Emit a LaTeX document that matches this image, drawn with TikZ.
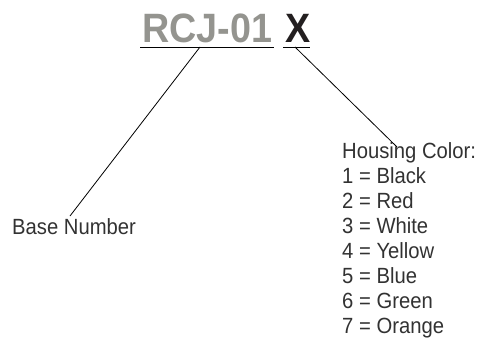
\documentclass[tikz,border=0pt]{standalone}
\usepackage{fontspec}
\setmainfont{Liberation Sans}
\newfontfamily\narrowsans[FakeStretch=0.92]{Liberation Sans}
\usepackage{tikz}
\usepackage{xcolor}
\usetikzlibrary{calc}
\definecolor{partgray}{RGB}{148,148,143}
\definecolor{codeblack}{RGB}{35,31,32}
\definecolor{textgray}{RGB}{50,50,50}
\tikzset{
    part-no/.style = {inner sep=0pt, anchor=base west, text=partgray, font=\narrowsans\fontsize{41}{41}\selectfont\bfseries},
    part-code/.style = {inner sep=0pt, anchor=base west, text=codeblack, font=\narrowsans\fontsize{41}{41}\selectfont\bfseries},
    item-text/.style = {inner sep=0pt, anchor=base west, text=textgray, font=\narrowsans\fontsize{22}{25}\selectfont},
    leader/.style = {draw=black, line width=0.8pt},
}

\begin{document}
\begin{tikzpicture}[x=1pt, y=-1pt]
\useasboundingbox (0,0) rectangle (481,339);
\node [part-no] (partno) at (142,43) {RCJ-01};
\node [part-code] (colorcode) at (285,43) {X};
\draw [leader] ($(partno.base west)+(-2,4)$) -- ($(partno.base east)+(2,4)$);
\draw [leader] ($(colorcode.base west)+(-2,4)$) -- ($(colorcode.base east)+(-1,4)$);
\coordinate (partfoot) at ($(partno.base west)+(58,4)$);
\coordinate (codefoot) at ($(colorcode.base west)+(10,4)$);

\node [item-text] (basenum) at (12,234) {Base Number};
\node [item-text] (housing) at (342,158) {Housing Color:};
\foreach \n/\c in {1/Black,2/Red,3/White,4/Yellow,5/Blue,6/Green,7/Orange}
    \node [item-text] (code\n) at (342,{158+25*\n}) {\n{} = \c};
\coordinate (basetip) at (70,216);
\coordinate (housingtip) at (397,147);

\draw [leader] (partfoot) -- (basetip);
\draw [leader] (codefoot) -- (housingtip);
\end{tikzpicture}
\end{document}
